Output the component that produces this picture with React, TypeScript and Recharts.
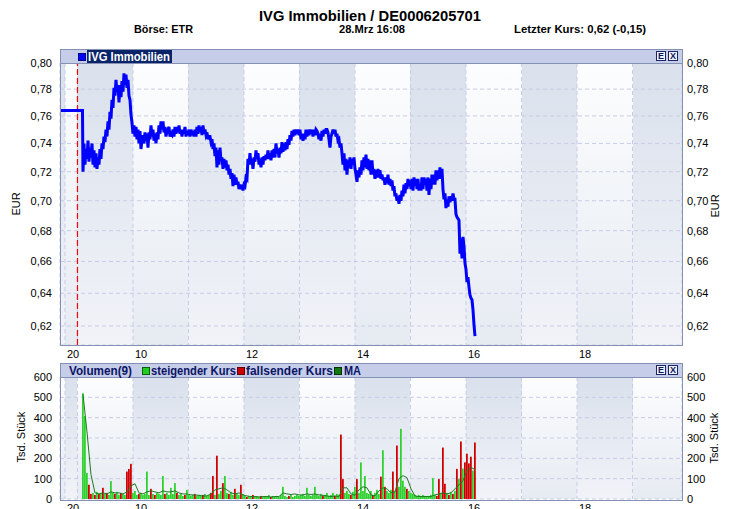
import React from 'react';
import { LineChart, ComposedChart, Line, Bar, XAxis, YAxis, CartesianGrid, ReferenceLine } from 'recharts';

const FONT = '"Liberation Sans", Arial, Helvetica, sans-serif';

// x axis unit: minutes after 09:00 on 28.Mrz (negative values = previous evening)
const xDomain: [number, number] = [-18.9, 653.5];
const hourTicks = [-18.9, -13.5, 0, 60, 120, 180, 240, 300, 360, 420, 480, 540, 600];
const hourTickLabels: Record<string, string> = { '-13.5': '20', '60': '10', '180': '12', '300': '14', '420': '16', '540': '18' };

const priceTicks = [0.62, 0.64, 0.66, 0.68, 0.7, 0.72, 0.74, 0.76, 0.78, 0.8];
const priceDomain: [number, number] = [0.6087, 0.8];
const volumeTicks = [0, 100, 200, 300, 400, 500, 600];
const volumeDomain: [number, number] = [0, 600];

const preOpenTimes = [-18.9, 5.4];
const preOpenPrices = [0.764, 0.764];

// intraday quotes, one every ~65 s from 09:06
const intradayStart = 5.95;
const intradayStep = 1.081;
const intradayPrices = [
  0.720, 0.740, 0.725, 0.736, 0.729, 0.742, 0.727, 0.737, 0.730, 0.740, 0.725, 0.735, 0.723, 0.733, 0.722, 0.730, 0.725, 0.736, 0.729, 0.740,
  0.736, 0.745, 0.741, 0.750, 0.745, 0.756, 0.750, 0.763, 0.758, 0.772, 0.766, 0.781, 0.775, 0.787, 0.778, 0.783, 0.770, 0.783, 0.774, 0.786,
  0.778, 0.792, 0.783, 0.791, 0.781, 0.787, 0.775, 0.772, 0.761, 0.755, 0.747, 0.753, 0.745, 0.752, 0.743, 0.750, 0.740, 0.749, 0.736, 0.743,
  0.746, 0.740, 0.748, 0.742, 0.747, 0.737, 0.748, 0.743, 0.753, 0.745, 0.750, 0.742, 0.747, 0.740, 0.748, 0.743, 0.753, 0.747, 0.756, 0.750,
  0.756, 0.748, 0.752, 0.745, 0.749, 0.750, 0.752, 0.745, 0.747, 0.746, 0.750, 0.745, 0.752, 0.747, 0.752, 0.748, 0.753, 0.747, 0.750, 0.745,
  0.750, 0.747, 0.752, 0.745, 0.749, 0.746, 0.750, 0.745, 0.750, 0.746, 0.749, 0.745, 0.750, 0.745, 0.752, 0.747, 0.753, 0.748, 0.752, 0.746,
  0.753, 0.747, 0.750, 0.746, 0.748, 0.743, 0.745, 0.745, 0.741, 0.743, 0.736, 0.740, 0.731, 0.737, 0.723, 0.735, 0.725, 0.737, 0.728, 0.730,
  0.722, 0.729, 0.723, 0.728, 0.721, 0.725, 0.718, 0.722, 0.715, 0.719, 0.710, 0.718, 0.711, 0.716, 0.711, 0.713, 0.708, 0.711, 0.708, 0.711,
  0.707, 0.711, 0.710, 0.716, 0.715, 0.729, 0.725, 0.733, 0.725, 0.729, 0.722, 0.730, 0.727, 0.735, 0.729, 0.733, 0.725, 0.729, 0.723, 0.730,
  0.725, 0.731, 0.728, 0.732, 0.729, 0.735, 0.729, 0.733, 0.728, 0.735, 0.730, 0.736, 0.730, 0.740, 0.733, 0.736, 0.730, 0.737, 0.733, 0.741,
  0.734, 0.740, 0.735, 0.741, 0.736, 0.743, 0.739, 0.746, 0.742, 0.749, 0.745, 0.750, 0.746, 0.750, 0.747, 0.750, 0.746, 0.750, 0.743, 0.747,
  0.742, 0.747, 0.743, 0.750, 0.745, 0.750, 0.746, 0.750, 0.747, 0.750, 0.745, 0.750, 0.746, 0.750, 0.749, 0.747, 0.743, 0.747, 0.742, 0.749,
  0.745, 0.750, 0.747, 0.750, 0.750, 0.748, 0.743, 0.737, 0.745, 0.747, 0.750, 0.747, 0.750, 0.745, 0.747, 0.742, 0.743, 0.737, 0.740, 0.733,
  0.725, 0.733, 0.721, 0.729, 0.718, 0.728, 0.723, 0.730, 0.722, 0.729, 0.725, 0.730, 0.722, 0.718, 0.713, 0.721, 0.716, 0.723, 0.718, 0.728,
  0.721, 0.730, 0.723, 0.732, 0.722, 0.729, 0.721, 0.728, 0.718, 0.728, 0.718, 0.722, 0.715, 0.721, 0.716, 0.722, 0.716, 0.721, 0.715, 0.718,
  0.714, 0.716, 0.711, 0.716, 0.712, 0.718, 0.711, 0.715, 0.710, 0.714, 0.707, 0.710, 0.703, 0.705, 0.700, 0.703, 0.698, 0.704, 0.700, 0.707,
  0.703, 0.711, 0.705, 0.712, 0.708, 0.715, 0.710, 0.714, 0.708, 0.715, 0.707, 0.716, 0.710, 0.715, 0.708, 0.715, 0.707, 0.711, 0.707, 0.716,
  0.708, 0.716, 0.711, 0.715, 0.707, 0.716, 0.704, 0.715, 0.708, 0.718, 0.711, 0.718, 0.711, 0.721, 0.714, 0.721, 0.715, 0.723, 0.715, 0.722,
  0.708, 0.701, 0.705, 0.695, 0.701, 0.696, 0.703, 0.699, 0.703, 0.700, 0.705, 0.701, 0.701, 0.691, 0.689, 0.688, 0.687, 0.665, 0.675, 0.662,
  0.676, 0.670, 0.659, 0.655, 0.647, 0.650, 0.644, 0.639, 0.637, 0.636, 0.630, 0.621, 0.614,
];

// volume in thousand shares, one bar every ~130 s
const volumeStart = 5.95;
const volumeStep = 2.162;
const volumes = [
  520, 408, 128, 70, 25, 30, 20, 35, 25, 30, 55, 25, 30, 20, 88, 30, 25, 35, 20, 30,
  25, 20, 135, 148, 173, 30, 40, 20, 25, 30, 20, 25, 135, 20, 50, 25, 20, 30, 25, 20,
  113, 25, 30, 20, 55, 25, 78, 30, 20, 25, 15, 20, 45, 20, 15, 20, 25, 15, 20, 15,
  20, 25, 15, 20, 30, 113, 20, 213, 25, 40, 78, 113, 30, 25, 35, 20, 50, 25, 20, 70,
  25, 15, 10, 15, 10, 20, 10, 15, 10, 15, 10, 15, 10, 20, 10, 15, 10, 15, 10, 20,
  60, 15, 10, 15, 20, 10, 15, 20, 15, 20, 25, 15, 55, 20, 15, 20, 60, 20, 15, 25,
  15, 20, 30, 15, 20, 30, 15, 25, 20, 317, 98, 30, 40, 25, 20, 35, 60, 98, 30, 180,
  40, 113, 30, 25, 40, 20, 30, 45, 25, 110, 240, 60, 40, 30, 45, 135, 40, 263, 60, 345,
  90, 60, 50, 40, 30, 25, 20, 15, 20, 15, 20, 15, 10, 15, 20, 103, 20, 15, 98, 30,
  253, 75, 30, 20, 35, 25, 40, 148, 100, 283, 150, 180, 223, 175, 208, 140, 278,
];
// u = steigender Kurs, d = fallender Kurs
const volumeDirection =
  'uuuddududududuuuduud' +
  'uuddduuuduuuuududuuu' +
  'uduuuuuduuuduuuuduuu' +
  'duuudduduuduuduuduud' +
  'uuduuduuuduuuuduuuuu' +
  'uuuduuuuuuuuuuuuuuuu' +
  'duuuuuduudduuuduuduu' +
  'uuuuuduuududuuududuu' +
  'uuduuuuuuuuuuuuuuddu' +
  'ddudududududdddud';

// MA(9) of the volume, sampled every ~260 s
const maStart = 5.95;
const maStep = 4.324;
const maValues = [
  515, 330, 120, 30, 25, 30, 25, 35, 30, 30, 25, 35, 65, 75, 30, 25, 35, 40, 35, 30,
  40, 35, 35, 40, 30, 25, 25, 20, 20, 18, 15, 15, 25, 45, 50, 55, 45, 30, 25, 30,
  20, 15, 12, 12, 10, 12, 12, 10, 12, 12, 30, 25, 22, 25, 20, 20, 25, 22, 25, 20,
  18, 15, 12, 15, 12, 55, 55, 25, 18, 45, 60, 55, 20, 15, 40, 55, 50, 30, 35, 100,
  115, 105, 50, 15, 12, 12, 12, 12, 20, 25, 30, 25, 30, 50, 70, 90, 140, 155, 145,
];

const priceData = [
  ...preOpenTimes.map((t, i) => ({ t, p: preOpenPrices[i] })),
  ...intradayPrices.map((p, i) => ({ t: intradayStart + i * intradayStep, p })),
];
const volumeData = volumes.map((v, i) => ({
  t: volumeStart + i * volumeStep,
  up: volumeDirection[i] === 'u' ? v : 0,
  down: volumeDirection[i] === 'd' ? v : 0,
}));
const maData = maValues.map((v, i) => ({ t: maStart + i * maStep, ma: v }));

const fmtPrice = (v: number) => v.toFixed(2).replace('.', ',');

const XTick = (props: any) => {
  const { x, y, payload } = props;
  const label = hourTickLabels[String(payload.value)];
  if (!label) return <g />;
  return (
    <text x={x + 2} y={y + 5} fontSize={11} fontFamily={FONT} fill="#000" textAnchor="start">
      {label}
    </text>
  );
};

const yTickStyle = { fontSize: 11, fill: '#000', fontFamily: FONT };
const headerBg = '#c5cde8';
const frameColor = '#8490b4';

const IconBox = ({ left, top, ch }: { left: number; top: number; ch: string }) => (
  <div
    style={{
      position: 'absolute', left, top, width: 10, height: 10, boxSizing: 'border-box',
      border: '1px solid #1a2466', background: '#eef1fa',
      fontFamily: FONT, fontSize: 9, lineHeight: '8px', textAlign: 'center', color: '#10185a', fontWeight: 'bold',
    }}
  >
    {ch}
  </div>
);

const Swatch = ({ left, top, color, border }: { left: number; top: number; color: string; border: string }) => (
  <div style={{ position: 'absolute', left, top, width: 8, height: 8, boxSizing: 'border-box', background: color, border: `1px solid ${border}` }} />
);

export default function App() {
  return (
    <div style={{ position: 'absolute', left: 0, top: 0, width: 731, height: 509, overflow: 'hidden', background: '#fff' }}>
      <svg width={0} height={0} style={{ position: 'absolute' }}>
        <defs>
          <linearGradient id="shadeBand" x1="0" y1="0" x2="0" y2="1">
            <stop offset="0" stopColor="#dae1ec" />
            <stop offset="1" stopColor="#f1f3f8" />
          </linearGradient>
          <linearGradient id="lightBand" x1="0" y1="0" x2="0" y2="1">
            <stop offset="0" stopColor="#fcfdfe" />
            <stop offset="1" stopColor="#e6ebf2" />
          </linearGradient>
        </defs>
      </svg>

      <div style={{ position: 'absolute', left: 0, top: 0 }}>
        <LineChart width={731} height={365} data={priceData} margin={{ top: 63, right: 9, bottom: 0, left: 20 }}>
          <CartesianGrid
            yAxisId="l"
            stroke="#c8cce6"
            strokeDasharray="4 3"
            verticalFill={['url(#shadeBand)', 'url(#lightBand)']}
          />
          <XAxis
            dataKey="t" type="number" domain={xDomain} ticks={hourTicks} interval={0} allowDataOverflow
            axisLine={false} tickLine={false} tick={<XTick />} height={20}
          />
          <YAxis
            yAxisId="l" scale="log" type="number" domain={priceDomain} ticks={priceTicks} interval={0} allowDataOverflow
            axisLine={false} tickLine={false} width={40} tick={yTickStyle} tickFormatter={fmtPrice}
          />
          <YAxis
            yAxisId="r" orientation="right" scale="log" type="number" domain={priceDomain} ticks={priceTicks} interval={0} allowDataOverflow
            axisLine={false} tickLine={false} width={40} tickSize={3} tick={yTickStyle} tickFormatter={fmtPrice}
          />
          <ReferenceLine yAxisId="l" x={0} stroke="#ff0000" strokeOpacity={1} strokeWidth={1.2} strokeDasharray="6 3" />
          <Line yAxisId="l" dataKey="p" type="linear" stroke="#0000ff" strokeWidth={3} dot={false} isAnimationActive={false} />
        </LineChart>
      </div>

      <div style={{ position: 'absolute', left: 0, top: 357 }}>
        <ComposedChart width={731} height={162} data={volumeData} margin={{ top: 20, right: 9, bottom: 0, left: 20 }}>
          <CartesianGrid
            yAxisId="l"
            stroke="#c8cce6"
            strokeDasharray="4 3"
            verticalFill={['url(#lightBand)', 'url(#shadeBand)']}
          />
          <XAxis
            dataKey="t" type="number" domain={xDomain} ticks={hourTicks} interval={0} allowDataOverflow
            axisLine={false} tickLine={false} tick={<XTick />} height={20}
          />
          <YAxis
            yAxisId="l" type="number" domain={volumeDomain} ticks={volumeTicks} interval={0} allowDataOverflow
            axisLine={false} tickLine={false} width={40} tick={yTickStyle}
          />
          <YAxis
            yAxisId="r" orientation="right" type="number" domain={volumeDomain} ticks={volumeTicks} interval={0} allowDataOverflow
            axisLine={false} tickLine={false} width={40} tickSize={3} tick={yTickStyle}
          />
          <Bar yAxisId="l" dataKey="up" stackId="v" fill="#2fd12f" barSize={2} isAnimationActive={false} />
          <Bar yAxisId="l" dataKey="down" stackId="v" fill="#d00000" barSize={2} isAnimationActive={false} />
          <Line yAxisId="l" data={maData} dataKey="ma" type="linear" stroke="#1d7a1d" strokeWidth={1} dot={false} isAnimationActive={false} />
        </ComposedChart>
      </div>

      {/* panel frames and header bars */}
      <div style={{ position: 'absolute', left: 60, top: 49, width: 623, height: 297, boxSizing: 'border-box', border: `1px solid ${frameColor}` }} />
      <div style={{ position: 'absolute', left: 60, top: 49, width: 623, height: 15, boxSizing: 'border-box', background: headerBg, border: `1px solid ${frameColor}` }} />
      <div style={{ position: 'absolute', left: 60, top: 363, width: 623, height: 138, boxSizing: 'border-box', border: `1px solid ${frameColor}` }} />
      <div style={{ position: 'absolute', left: 60, top: 363, width: 623, height: 15, boxSizing: 'border-box', background: headerBg, border: `1px solid ${frameColor}` }} />

      <Swatch left={78} top={53} color="#0000ff" border="#000088" />
      <div style={{ position: 'absolute', left: 87, top: 50, width: 85, height: 13, background: '#0a246a' }} />
      <IconBox left={656} top={51} ch="E" />
      <IconBox left={668} top={51} ch="X" />
      <IconBox left={656} top={365} ch="E" />
      <IconBox left={668} top={365} ch="X" />

      <Swatch left={142} top={367} color="#22cc22" border="#006600" />
      <Swatch left={237} top={367} color="#cc0000" border="#660000" />
      <Swatch left={334} top={367} color="#117711" border="#003300" />

      <svg width={731} height={509} style={{ position: 'absolute', left: 0, top: 0, pointerEvents: 'none' }}>
        <g fontFamily={FONT} fontWeight="bold" fill="#000">
          <text x={370} y={21} fontSize={15} textAnchor="middle" textLength={222} lengthAdjust="spacingAndGlyphs">
            IVG Immobilien  /  DE0006205701
          </text>
          <text x={134} y={33} fontSize={11} textLength={59} lengthAdjust="spacingAndGlyphs">Börse: ETR</text>
          <text x={339} y={33} fontSize={11} textLength={66} lengthAdjust="spacingAndGlyphs">28.Mrz 16:08</text>
          <text x={514} y={33} fontSize={11} textLength={132} lengthAdjust="spacingAndGlyphs">Letzter Kurs: 0,62 (-0,15)</text>
        </g>
        <text x={88} y={61} fontSize={12} fontWeight="bold" fontFamily={FONT} fill="#ffffff" textLength={82} lengthAdjust="spacingAndGlyphs">IVG Immobilien</text>
        <g fontFamily={FONT} fontWeight="bold" fontSize={12} fill="#0c1466">
          <text x={69} y={375} textLength={63} lengthAdjust="spacingAndGlyphs">Volumen(9)</text>
          <text x={151} y={375} textLength={85} lengthAdjust="spacingAndGlyphs">steigender Kurs</text>
          <text x={246} y={375} textLength={87} lengthAdjust="spacingAndGlyphs">fallsender Kurs</text>
          <text x={344} y={375} textLength={17} lengthAdjust="spacingAndGlyphs">MA</text>
        </g>
        <g fontFamily={FONT} fontSize={11} fill="#000">
          <text transform="translate(20,204) rotate(-90)" textAnchor="middle">EUR</text>
          <text transform="translate(719,206) rotate(-90)" textAnchor="middle">EUR</text>
          <text transform="translate(25,437) rotate(-90)" textAnchor="middle">Tsd. Stück</text>
          <text transform="translate(718,438) rotate(-90)" textAnchor="middle">Tsd. Stück</text>
        </g>
      </svg>
    </div>
  );
}
